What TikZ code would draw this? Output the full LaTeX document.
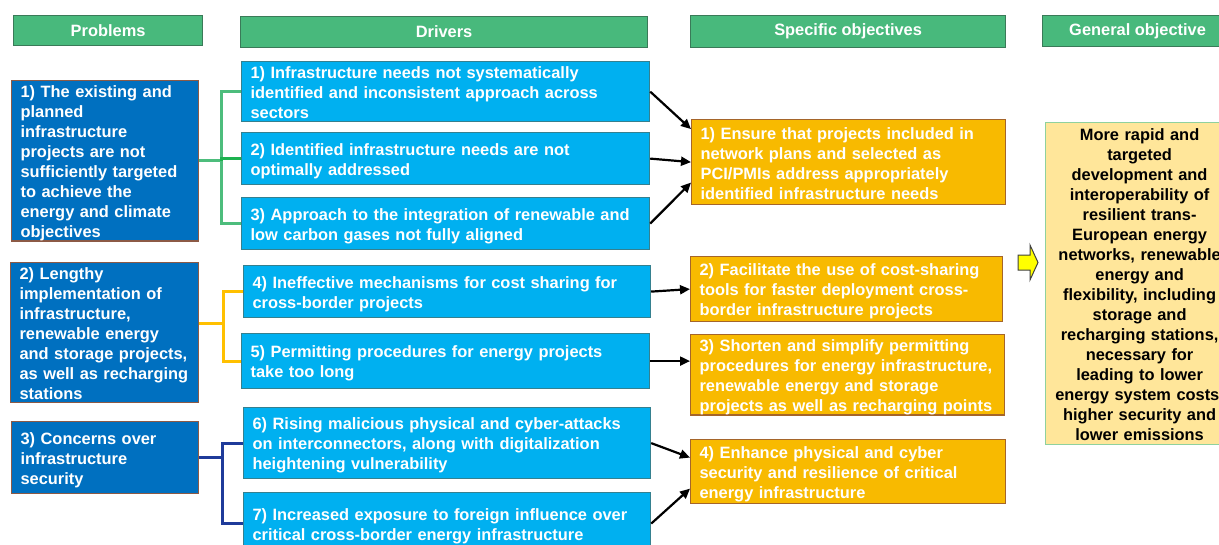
\documentclass[tikz,border=0pt]{standalone}
\usepackage{fontspec}
\setmainfont{Liberation Sans}
\usetikzlibrary{arrows.meta,calc}
\definecolor{hdrf}{HTML}{48B97C}
\definecolor{hdrb}{HTML}{3A7A58}
\definecolor{probf}{HTML}{0070C0}
\definecolor{probb}{HTML}{8C5A46}
\definecolor{drvf}{HTML}{00B0F0}
\definecolor{drvb}{HTML}{35808F}
\definecolor{specf}{HTML}{F8BA00}
\definecolor{specb}{HTML}{A5652A}
\definecolor{genf}{HTML}{FFE69A}
\definecolor{genb}{HTML}{8FD19E}
\definecolor{brg}{HTML}{4DBD7C}
\definecolor{brgd}{HTML}{1DB24F}
\definecolor{bro}{HTML}{FFC000}
\definecolor{brn}{HTML}{1F3B9A}
\definecolor{yarrow}{HTML}{FFFF00}
\tikzset{
  base/.style={draw, line width=1.2pt, anchor=north west, inner xsep=9pt, inner ysep=0pt,
    font=\fontsize{16.4}{20}\selectfont\bfseries, align=left},
  boxtxt/.style={base, execute at begin node={\rule{0pt}{17pt}}, execute at end node={\rule[-3pt]{0pt}{3pt}}},
  hdr/.style={base, fill=hdrf, draw=hdrb, text=white, align=center},
  prob/.style={boxtxt, fill=probf, draw=probb, text=white},
  drv/.style={boxtxt, fill=drvf, draw=drvb, text=white},
  spec/.style={boxtxt, fill=specf, draw=specb, text=white},
  gen/.style={boxtxt, fill=genf, draw=genb, text=black, align=center, inner xsep=4pt},
  brk/.style={line width=2.8pt},
  arr/.style={line width=2.2pt, -{Triangle[length=10pt,width=9pt]}},
}
\begin{document}
\begin{tikzpicture}[x=1pt,y=-1pt]
\useasboundingbox (0,0) rectangle (1219,544);
\clip (0,0) rectangle (1219,544);
% headers
\node[hdr, minimum width=189pt, minimum height=30pt] (h1) at (13,15) {Problems};
\node[hdr, minimum width=407pt, minimum height=31pt] (h2) at (240,16) {Drivers};
\node[hdr, minimum width=315pt, minimum height=32pt] (h3) at (690,15) {Specific objectives};
\node[hdr, minimum width=190pt, minimum height=31pt] (h4) at (1042,15) {General objective};
% problems
\node[prob, minimum width=187pt, minimum height=160pt, text width=169pt] (p1) at (11,80)
  {1) The existing and\\planned\\infrastructure\\projects are not\\sufficiently targeted\\to achieve the\\energy and climate\\objectives};
\node[prob, minimum width=188pt, minimum height=139pt, text width=170pt] (p2) at (10,262)
  {2) Lengthy\\implementation of\\infrastructure,\\renewable energy\\and storage projects,\\as well as recharging\\stations};
\node[prob, minimum width=187pt, minimum height=72pt, text width=169pt] (p3) at (11,421)
  {3) Concerns over\\infrastructure\\security};
% drivers
\node[drv, minimum width=408pt, minimum height=60pt, text width=390pt] (d1) at (241,61)
  {1) Infrastructure needs not systematically\\identified and inconsistent approach across\\sectors};
\node[drv, minimum width=408pt, minimum height=52pt, text width=390pt] (d2) at (241,132)
  {2) Identified infrastructure needs are not\\optimally addressed};
\node[drv, minimum width=408pt, minimum height=52pt, text width=390pt] (d3) at (241,197)
  {3) Approach to the integration of renewable and\\low carbon gases not fully aligned};
\node[drv, minimum width=407pt, minimum height=52pt, text width=389pt] (d4) at (243,265)
  {4) Ineffective mechanisms for cost sharing for\\cross-border projects};
\node[drv, minimum width=408pt, minimum height=55pt, text width=390pt] (d5) at (241,333)
  {5) Permitting procedures for energy projects\\take too long};
\node[drv, minimum width=407pt, minimum height=71pt, text width=389pt] (d6) at (243,407)
  {6) Rising malicious physical and cyber-attacks\\on interconnectors, along with digitalization\\heightening vulnerability};
\node[drv, minimum width=407pt, minimum height=62pt, text width=389pt] (d7) at (243,492)
  {7) Increased exposure to foreign influence over\\critical cross-border energy infrastructure};
% specific objectives
\node[spec, minimum width=314pt, minimum height=85pt, text width=296pt] (s1) at (691,119)
  {1) Ensure that projects included in\\network plans and selected as\\PCI/PMIs address appropriately\\identified infrastructure needs};
\node[spec, minimum width=312pt, minimum height=65pt, text width=294pt] (s2) at (690,256)
  {2) Facilitate the use of cost-sharing\\tools for faster deployment cross-\\border infrastructure projects};
\node[spec, minimum width=314pt, minimum height=80pt, text width=296pt] (s3) at (690,334)
  {3) Shorten and simplify permitting\\procedures for energy infrastructure,\\renewable energy and storage\\projects as well as recharging points};
\node[spec, minimum width=315pt, minimum height=64pt, text width=297pt] (s4) at (690,439)
  {4) Enhance physical and cyber\\security and resilience of critical\\energy infrastructure};
% general objective
\node[gen, minimum width=188pt, minimum height=322pt, text width=180pt] (g) at (1045,122)
  {More rapid and\\targeted\\development and\\interoperability of\\resilient trans-\\European energy\\networks, renewable\\energy and\\flexibility, including\\storage and\\recharging stations,\\necessary for\\leading to lower\\energy system costs,\\higher security and\\lower emissions};
% brackets
\draw[brk, brg] (p1.east) -- ++(22,0) coordinate (g1) |- (d1.west);
\draw[brk, brg] (g1) |- (d3.west);
\draw[brk, brgd] (g1) -- (d2.west -| g1) -- (d2.west);
\draw[brk, bro] ([yshift=9.5pt]p2.east) -- ++(24,0) coordinate (o1) |- (d4.west);
\draw[brk, bro] (o1) |- (d5.west);
\draw[brk, brn] (p3.east) -- ++(23,0) coordinate (n1) |- (d6.west);
\draw[brk, brn] (n1) |- (d7.west);
% arrows
\draw[arr] (d1.east) -- ([yshift=33pt]s1.west);
\draw[arr] (d2.east) -- (s1.west);
\draw[arr] (d3.east) -- ([yshift=-20.5pt]s1.west);
\draw[arr] (d4.east) -- (s2.west);
\draw[arr] (d5.east) -- (d5.east -| s3.west);
\draw[arr] (d6.east) -- ([yshift=14pt]s4.west);
\draw[arr] (d7.east) -- ([yshift=-17pt]s4.west);
% yellow block arrow
\draw[fill=yarrow, draw=black!75, line width=1pt, line join=miter]
  (1018,255) -- (1030,255) -- (1030,245) -- (1038,262.5) -- (1030,280) -- (1030,270) -- (1018,270) -- cycle;
\end{tikzpicture}
\end{document}
